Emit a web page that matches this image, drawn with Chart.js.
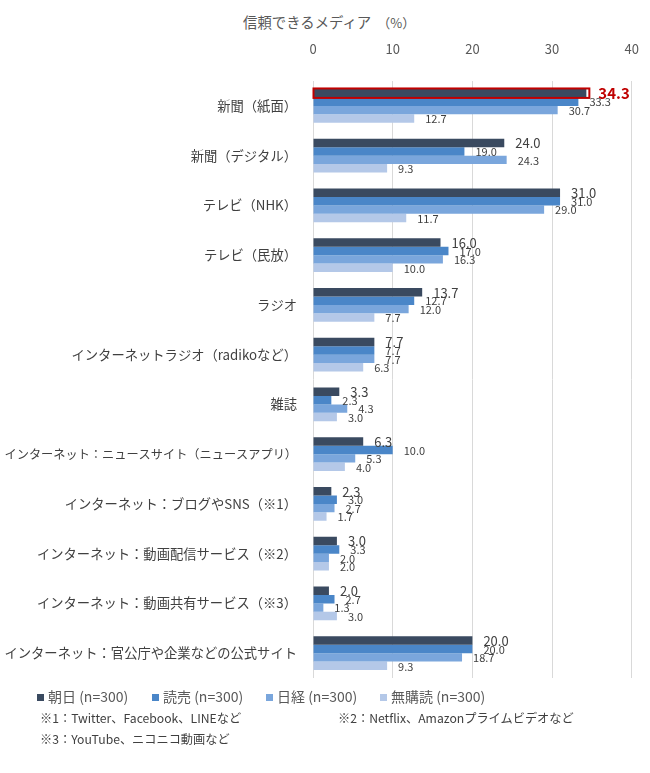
<!DOCTYPE html>
<html>
<head>
<meta charset="utf-8">
<script src="https://cdn.jsdelivr.net/npm/chart.js@4/dist/chart.umd.min.js"></script>
<style>
  html, body { margin: 0; padding: 0; background: #fff; }
  body { width: 650px; height: 773px; position: relative; overflow: hidden;
         font-family: "Noto Sans CJK JP", "Noto Sans", sans-serif; }
  #wrap { position: absolute; left: 0; top: 0; width: 663px; height: 694px; }
  #title { position: absolute; left: 243px; top: 11px; font-size: 14.4px; color: #595959; white-space: nowrap; }
  #title span { font-size: 13px; margin-left: 6px; }
  #legend { position: absolute; left: 37px; top: 686px; font-size: 14px; color: #595959; white-space: nowrap; }
  .li { position: absolute; top: 0; white-space: nowrap; }
  .li i { display: inline-block; width: 7px; height: 7px; margin-right: 4px; vertical-align: 1px; }
  .fn { position: absolute; font-size: 12.2px; color: #404040; white-space: nowrap; }
</style>
</head>
<body>
<div id="title">信頼できるメディア<span>（%）</span></div>
<div id="wrap"><canvas id="c"></canvas></div>
<div id="legend"></div>
<div class="fn" style="left:40px; top:709px;">※1：Twitter、Facebook、LINEなど</div>
<div class="fn" style="left:338px; top:709px;">※2：Netflix、Amazonプライムビデオなど</div>
<div class="fn" style="left:40px; top:730px;">※3：YouTube、ニコニコ動画など</div>
<script>
const categories = [
  "新聞（紙面）",
  "新聞（デジタル）",
  "テレビ（NHK）",
  "テレビ（民放）",
  "ラジオ",
  "インターネットラジオ（radikoなど）",
  "雑誌",
  "インターネット：ニュースサイト（ニュースアプリ）",
  "インターネット：ブログやSNS（※1）",
  "インターネット：動画配信サービス（※2）",
  "インターネット：動画共有サービス（※3）",
  "インターネット：官公庁や企業などの公式サイト"
];
const seriesNames = ["朝日 (n=300)", "読売 (n=300)", "日経 (n=300)", "無購読 (n=300)"];
const asahi     = [34.3, 24.0, 31.0, 16.0, 13.7, 7.7, 3.3, 6.3, 2.3, 3.0, 2.0, 20.0];
const yomiuri   = [33.3, 19.0, 31.0, 17.0, 12.7, 7.7, 2.3, 10.0, 3.0, 3.3, 2.7, 20.0];
const nikkei    = [30.7, 24.3, 29.0, 16.3, 12.0, 7.7, 4.3, 5.3, 2.7, 2.0, 1.3, 18.7];
const mukoudoku = [12.7, 9.3, 11.7, 10.0, 7.7, 6.3, 3.0, 4.0, 1.7, 2.0, 3.0, 9.3];
const xTicks = [0, 10, 20, 30, 40];
const colors = ["#3a4a60", "#4a86c8", "#7aa6dc", "#b4c8e8"];
const FONT = '"Noto Sans CJK JP", "Noto Sans", sans-serif';

const allSeries = [asahi, yomiuri, nikkei, mukoudoku];

const labelPlugin = {
  id: 'barLabels',
  afterDatasetsDraw(chart) {
    const ctx = chart.ctx;
    ctx.save();
    const hl = chart.getDatasetMeta(0).data[0];
    if (hl) {
      ctx.strokeStyle = '#c00000';
      ctx.lineWidth = 2;
      const h = hl.height;
      ctx.strokeRect(hl.base, hl.y - h / 2 - 0.5, hl.x - hl.base + 3, h + 1);
    }
    chart.data.datasets.forEach((ds, di) => {
      const meta = chart.getDatasetMeta(di);
      meta.data.forEach((el, i) => {
        const v = ds.data[i];
        const txt = v.toFixed(1);
        ctx.textBaseline = 'middle';
        ctx.textAlign = 'left';
        if (di === 0 && i === 0) {
          ctx.font = 'bold 15px ' + FONT;
          ctx.fillStyle = '#c00000';
          ctx.fillText(txt, el.x + 12, el.y);
        } else {
          ctx.font = (di === 0 ? '13px ' : '11px ') + FONT;
          ctx.fillStyle = '#404040';
          ctx.fillText(txt, el.x + 11, el.y + 0.5);
        }
      });
    });
    ctx.restore();
  }
};

const chart = new Chart(document.getElementById('c'), {
  type: 'bar',
  data: {
    labels: categories,
    datasets: allSeries.map((d, i) => ({
      label: seriesNames[i],
      data: d,
      backgroundColor: colors[i],
      borderWidth: 0,
      categoryPercentage: 0.68,
      barPercentage: 1.0
    }))
  },
  options: {
    indexAxis: 'y',
    responsive: true,
    maintainAspectRatio: false,
    animation: false,
    layout: { padding: { top: 30, right: 18, bottom: 11, left: 0 } },
    plugins: { legend: { display: false }, tooltip: { enabled: false } },
    scales: {
      x: {
        position: 'top',
        min: 0, max: 40,
        afterBuildTicks(s) { s.ticks = xTicks.map(v => ({ value: v })); },
        afterFit(s) { s.height = 51; },
        grid: { color: '#d9d9d9', lineWidth: 1, drawTicks: false },
        border: { display: false },
        ticks: { color: '#595959', font: { family: FONT, size: 13 }, padding: 24 }
      },
      y: {
        afterFit(s) { s.width = 313; },
        grid: { display: false },
        border: { display: false },
        ticks: {
          color: '#404040',
          font: (c) => ({ family: FONT, size: (categories[c.index] || '').length > 22 ? 12.2 : 13.3 }),
          padding: 8,
          autoSkip: false
        }
      }
    }
  },
  plugins: [labelPlugin]
});

const lg = document.getElementById('legend');
const lx = [0, 115, 229, 343];
seriesNames.forEach((n, i) => {
  const d = document.createElement('div');
  d.className = 'li';
  d.style.left = lx[i] + 'px';
  d.innerHTML = '<i style="background:' + colors[i] + '"></i>' + n;
  lg.appendChild(d);
});
</script>
</body>
</html>
